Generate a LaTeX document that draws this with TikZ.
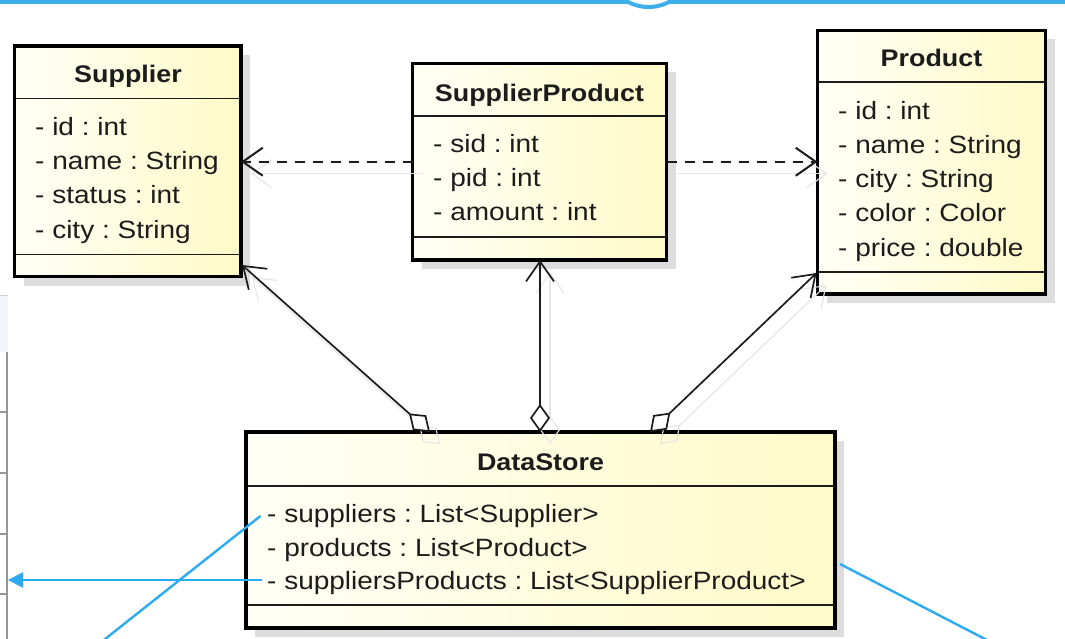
\documentclass[tikz,border=0pt]{standalone}
\usepackage{fontspec}
\setmainfont{Liberation Sans}[FakeStretch=1.12]
\usetikzlibrary{arrows.meta,calc}

\definecolor{noteblue}{RGB}{45,170,240}
\definecolor{barblue}{RGB}{60,175,235}
\definecolor{boxlight}{RGB}{255,255,246}
\definecolor{boxdark}{RGB}{255,250,200}
\definecolor{shadowgray}{RGB}{221,221,221}
\definecolor{ghost}{RGB}{230,230,230}
\definecolor{ink}{RGB}{28,28,28}
\definecolor{panelbg}{RGB}{242,246,252}
\definecolor{panelline}{RGB}{150,150,150}

\tikzset{
  classbody/.style={rectangle, draw=black, line width=3.5pt,
    left color=boxlight, right color=boxdark, inner sep=0pt, outer sep=0pt},
  divider/.style={draw=ink, line width=1.4pt},
  shadowbox/.style={fill=shadowgray},
  title/.style={anchor=base, font=\fontsize{24}{30}\selectfont\bfseries\frenchspacing,
    text=ink, inner sep=0pt},
  attr/.style={anchor=base west, font=\fontsize{25}{30}\selectfont\frenchspacing,
    text=ink, inner sep=0pt},
  openhead/.style={-{Straight Barb[length=20pt,width=28pt]}},
  dep/.style={draw=ink, line width=2pt, dash pattern=on 10pt off 8pt, openhead},
  aggr/.style={draw=ink, line width=1.7pt,
    {Diamond[fill=white,length=28pt,width=20pt]}-{Straight Barb[length=20pt,width=28pt]}},
  ghostdep/.style={draw=ghost, line width=1.1pt, openhead},
  ghostaggr/.style={draw=ghost, line width=1.1pt,
    {Diamond[fill=none,length=28pt,width=20pt]}-{Straight Barb[length=20pt,width=28pt]}},
  note/.style={draw=noteblue, line width=2.4pt},
}

% class box: name, x1, y1, x2, y2, header divider y, operations divider y
\newcommand\umlclass[7]{%
  \fill[shadowbox] (#2+9,#3+9) rectangle (#4+9,#5+9);
  \node[classbody, minimum width={(#4-#2)*1pt}, minimum height={(#5-#3)*1pt}]
    (#1) at ({(#2+#4)/2},{(#3+#5)/2}) {};
  \draw[divider] (#2+1.5,#6) -- (#4-1.5,#6) (#2+1.5,#7) -- (#4-1.5,#7);
}

\begin{document}
\begin{tikzpicture}[x=1pt,y=-1pt]
\fill[white] (0,0) rectangle (1065,639);
\useasboundingbox (0,0) rectangle (1065,639);

% window bar at the top
\fill[barblue] (0,0) rectangle (1065,4);
\draw[barblue, line width=4pt, fill=white] (648.5,-37) circle (44pt);

% side panel on the left
\fill[panelbg] (0,295) rectangle (8,352);
\draw[panelline!40, line width=1pt] (0,295) -- (8,295);
\draw[panelline, line width=2pt] (7,352) -- (7,645);
\foreach \ty in {412,473,534,594}
  \draw[panelline, line width=1.5pt] (0,\ty) -- (7,\ty);

% classes
\umlclass{sup}{14.5}{46}{241}{276.5}{98.3}{254.5}
\node[title] at (128,83) {Supplier};
\node[attr] at (35,136) {- id : int};
\node[attr] at (35,170) {- name : String};
\node[attr] at (35,204) {- status : int};
\node[attr] at (35,238) {- city : String};

\umlclass{sp}{412.5}{63.5}{666.5}{260}{116}{237}
\node[title] at (539.5,101.5) {SupplierProduct};
\node[attr] at (433,153) {- sid : int};
\node[attr] at (433,187) {- pid : int};
\node[attr] at (433,221) {- amount : int};

\umlclass{prod}{817.5}{30.5}{1045.5}{294}{82}{272}
\node[title] at (931.5,66.5) {Product};
\node[attr] at (838,120) {- id : int};
\node[attr] at (838,154) {- name : String};
\node[attr] at (838,188) {- city : String};
\node[attr] at (838,222) {- color : Color};
\node[attr] at (838,256) {- price : double};

\umlclass{ds}{246}{432}{835}{628}{486}{605}
\node[title] at (540.5,470) {DataStore};
\node[attr] at (267,522) {- suppliers : List<Supplier>};
\node[attr] at (267,556) {- products : List<Product>};
\node[attr] at (267,589) {- suppliersProducts : List<SupplierProduct>};

% connector end points
\coordinate (dsL) at ($(ds.north west)+(184,0)$);
\coordinate (dsM) at ($(ds.north west)+(294,0)$);
\coordinate (dsR) at ($(ds.north west)+(404,0)$);
\coordinate (supB) at ($(sup.south east)+(1,-11.5)$);
\coordinate (prodB) at ($(prod.south west)+(-1,-21)$);
\coordinate (spL) at (sp.west);
\coordinate (spR) at (sp.east);
\coordinate (supR) at (spL -| sup.east);
\coordinate (prodL) at (spR -| prod.west);
\coordinate (spB) at (dsM |- sp.south);

% faint drag outlines of the connectors
\draw[ghostdep] ($(spL)+(10,12)$) -- ($(supR)+(10,12)$);
\draw[ghostdep] ($(spR)+(10,12)$) -- ($(prodL)+(10,12)$);
\draw[ghostaggr] ($(dsL)+(10,12)$) -- ($(supB)+(10,12)$);
\draw[ghostaggr] ($(dsM)+(10,12)$) -- ($(spB)+(10,12)$);
\draw[ghostaggr] ($(dsR)+(10,12)$) -- ($(prodB)+(10,12)$);

% dependencies
\draw[dep] (spL) -- (supR);
\draw[dep] (spR) -- (prodL);

% aggregations
\draw[aggr] (dsL) -- (supB);
\draw[aggr] (dsM) -- (spB);
\draw[aggr] (dsR) -- (prodB);

% blue callout lines
\coordinate (n1) at (260.5,516);
\coordinate (n1end) at (97.5,645);
\coordinate (n2) at (262,580);
\coordinate (n2end) at (8,580);
\coordinate (n3) at (840,564);
\coordinate (n3end) at (996.6,645);
\draw[note] (n1) -- (n1end);
\draw[note, -{Triangle[length=15pt,width=15pt]}] (n2) -- (n2end);
\draw[note] (n3) -- (n3end);
\end{tikzpicture}
\end{document}
